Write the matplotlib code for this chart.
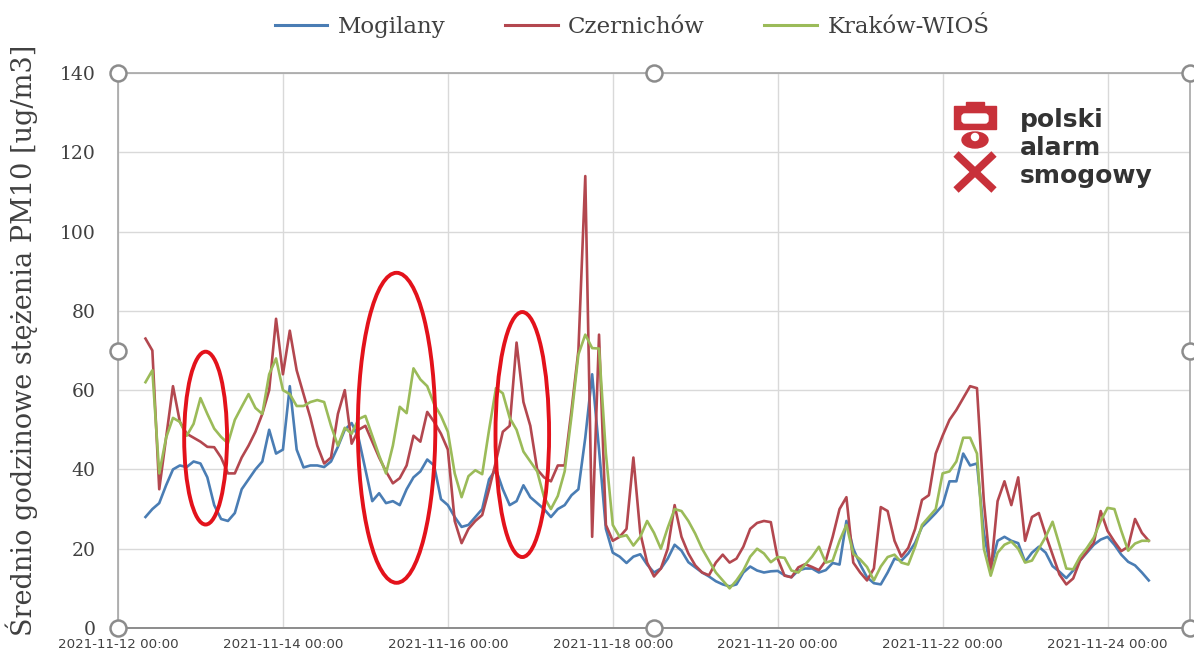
import matplotlib
matplotlib.use("Agg")
import matplotlib.pyplot as plt
import matplotlib.dates as mdates
from matplotlib.patches import Ellipse, Rectangle, FancyBboxPatch, Circle
from matplotlib.lines import Line2D
import pandas as pd

# 2-hour averages of PM10, first value at 2021-11-12 08:00
start = "2021-11-12 08:00"

mogilany = [
    28, 30, 31.5, 36, 40, 41, 40.6, 42, 41.5, 38,
    31, 27.5, 27, 29, 35, 37.5, 40, 42, 50, 44,
    45, 61, 45, 40.5, 41, 41, 40.6, 42, 45.7, 50,
    51.7, 48, 40, 32, 34, 31.5, 32, 31, 35, 38,
    39.5, 42.5, 41, 32.5, 31, 28, 25.5, 26, 28, 30,
    37.5, 40, 35, 31, 32, 36, 33, 31.5, 30, 28,
    30, 31, 33.5, 35, 48, 64, 45, 25, 19, 18,
    16.4, 18, 18.6, 16, 14, 15, 17.5, 21, 19.5, 16.6,
    15.3, 14, 13, 11.8, 11, 10.5, 11, 14, 15.5, 14.5,
    14, 14.3, 14.4, 13.3, 12.8, 14.5, 15, 15, 14, 14.6,
    16.4, 16, 27, 20, 16, 12.8, 11.3, 11, 14, 17.5,
    17, 18.8, 21.5, 25.5, 27.2, 29, 31, 37, 37, 44,
    41, 41.5, 24, 15, 22, 23, 22, 21.4, 16.7, 19,
    20.5, 19, 15.6, 14.2, 12.6, 14.5, 17, 19, 21, 22.3,
    23, 21, 18.5, 16.7, 15.8, 14, 12,
]

czernichow = [
    73, 70, 35, 48, 61, 52, 49, 48, 47, 45.7,
    45.6, 43, 39, 39, 43, 46, 49.5, 54, 60, 78,
    64, 75, 65, 59, 53, 46, 41.5, 43, 54, 60,
    46.5, 50, 51, 47, 43, 39.5, 36.5, 37.8, 41, 48.5,
    47, 54.5, 52, 49, 45, 27, 21.4, 25, 27, 28.5,
    35, 42, 49.5, 51, 72, 57, 51, 40, 38, 37,
    41, 41, 55, 70, 114, 23, 74, 26, 22, 23,
    25, 43, 24, 16.5, 13, 15, 20, 31, 23, 18.8,
    15.8, 14, 13.3, 16.5, 18.5, 16.5, 17.5, 20.5, 25, 26.5,
    27, 26.7, 17.5, 13.2, 12.8, 15.3, 16.1, 15.4, 14.6, 17,
    23, 30, 33, 16.5, 14, 12, 15, 30.5, 29.5, 22,
    18, 20.2, 25, 32.3, 33.5, 44, 48.5, 52.5, 55, 58,
    61, 60.5, 32, 14, 32, 37, 31, 38, 22, 28,
    29, 23.5, 18.5, 13.5, 11, 12.5, 17, 19.3, 21.5, 29.5,
    24.5, 21.8, 19.4, 20.5, 27.5, 24, 22,
]

krakow_wios = [
    62, 65, 39, 48, 53, 52, 48.5, 51.5, 58, 54,
    50.3, 48.2, 46.6, 52.5, 55.8, 59, 55.5, 54, 64, 68,
    60, 59, 56, 56, 57, 57.5, 57, 51, 46, 50.5,
    49, 52.7, 53.5, 48.5, 43.5, 39, 46, 55.8, 54.2, 65.5,
    62.7, 61, 56.5, 53.5, 49.5, 39, 33, 38.3, 39.8, 38.8,
    50, 60.5, 59.2, 53, 50, 44.5, 42, 39.5, 33, 30,
    33.3, 39.5, 53.5, 69, 74, 70.6, 70.5, 44, 26, 23,
    23.4, 20.8, 23, 27, 24, 20, 25.3, 30, 29.5, 27,
    23.8, 20, 17, 14, 12, 10, 12, 14.5, 18, 20,
    18.8, 16.6, 17.9, 17.7, 14.5, 14, 16, 18, 20.5, 16.5,
    17, 22, 26, 18.7, 17.3, 15.4, 12, 15.5, 17.9, 18.5,
    16.5, 16, 20.5, 26, 28, 30, 39, 39.5, 42, 48,
    48, 44, 20, 13.2, 19, 21, 21.8, 20, 16.5, 17,
    20, 23, 26.8, 21, 15, 14.8, 18, 20.2, 22.8, 27,
    30.3, 30, 24.5, 19.5, 21.3, 22, 22,
]

series_names = ["Mogilany", "Czernichów", "Kraków-WIOŚ"]
series_colors = ["#4a7db4", "#b3474f", "#9bbb59"]

times = pd.date_range(start, periods=len(mogilany), freq="2h")

W, H = 1194, 657
fig = plt.figure(figsize=(W / 100, H / 100), dpi=100)
fig.patch.set_facecolor("white")

# plot area in pixels: left 118, right 1190, top 73, bottom 628
ax = fig.add_axes([118 / W, 1 - 628 / H, (1190 - 118) / W, (628 - 73) / H])

for vals, name, col in zip([mogilany, czernichow, krakow_wios], series_names, series_colors):
    ax.plot(times, vals, color=col, lw=1.9, label=name, solid_joinstyle="round")

ax.set_xlim(pd.Timestamp("2021-11-12 00:00"), pd.Timestamp("2021-11-25 00:00"))
ax.set_ylim(0, 140)
ax.set_yticks(range(0, 141, 20))
ax.set_xticks(pd.date_range("2021-11-12", "2021-11-24", freq="2D"))
ax.xaxis.set_major_formatter(mdates.DateFormatter("%Y-%m-%d %H:%M"))

ax.grid(True, color="#d9d9d9", lw=1)
ax.set_axisbelow(True)
for side in ["left", "right", "top"]:
    ax.spines[side].set_color("#a6a6a6")
    ax.spines[side].set_linewidth(1.2)
ax.spines["bottom"].set_color("#8c8c8c")
ax.spines["bottom"].set_linewidth(1.4)

ax.tick_params(axis="both", length=0)
ax.tick_params(axis="y", pad=16, labelsize=13.5, labelcolor="#404040")
ax.tick_params(axis="x", pad=7, labelsize=9.6, labelcolor="#404040")
for lab in ax.get_yticklabels():
    lab.set_fontfamily("DejaVu Serif")

# red hand-drawn style rings (center date, center value, width in days, height)
rings = [
    (pd.Timestamp("2021-11-13 01:30"), 47.9, 0.52, 43.6),
    (pd.Timestamp("2021-11-15 09:05"), 50.5, 0.94, 78.2),
    (pd.Timestamp("2021-11-16 21:40"), 48.8, 0.65, 61.8),
]
for cx, cy, w, h in rings:
    ax.add_patch(Ellipse((mdates.date2num(cx), cy), w, h, fill=False,
                         ec="#e3121b", lw=2.8, zorder=5))

# selection handles on the chart frame
hx = [0, 0.5, 1, 0, 1, 0, 0.5, 1]
hy = [1, 1, 1, 0.5, 0.5, 0, 0, 0]
ax.plot(hx, hy, "o", transform=ax.transAxes, clip_on=False, ms=11.5,
        mfc="white", mec="#8c8c8c", mew=1.8, zorder=10)

fig.text(22 / W, 1 - 340 / H, "Średnio godzinowe stężenia PM10 [ug/m3]",
         rotation=90, ha="center", va="center", fontsize=19.5,
         family="DejaVu Serif", color="#404040")

handles = [Line2D([], [], color=c, lw=2.2) for c in series_colors]
fig.legend(handles, series_names, loc="center", bbox_to_anchor=(632 / W, 1 - 27 / H),
           ncol=3, frameon=False, handlelength=2.3, handletextpad=0.45,
           columnspacing=2.6, prop={"family": "DejaVu Serif", "size": 16.5},
           labelcolor="#404040")

# logo drawn in pixel coordinates on a transparent overlay
ov = fig.add_axes([0, 0, 1, 1])
ov.set_xlim(0, W)
ov.set_ylim(H, 0)
ov.axis("off")
ov.patch.set_alpha(0)
red = "#c8313a"
ov.add_patch(Rectangle((954, 106), 42, 23, color=red))
ov.add_patch(Rectangle((966, 102), 18, 5, color=red))
ov.add_patch(FancyBboxPatch((962, 114), 26, 9, boxstyle="round,pad=0,rounding_size=3", color="white"))
ov.add_patch(Ellipse((975, 140), 26, 16, color=red))
ov.add_patch(Circle((975, 137), 3.5, color="white"))
ov.plot([956, 994], [154, 190], color=red, lw=5.5, solid_capstyle="butt")
ov.plot([994, 956], [154, 190], color=red, lw=5.5, solid_capstyle="butt")
for txt, yb in zip(["polski", "alarm", "smogowy"], [127, 155, 183]):
    ov.text(1020, yb, txt, fontsize=18, fontweight="bold", color="#333333",
            family="DejaVu Sans", va="baseline", ha="left")

fig.savefig("out.png", dpi=100)
